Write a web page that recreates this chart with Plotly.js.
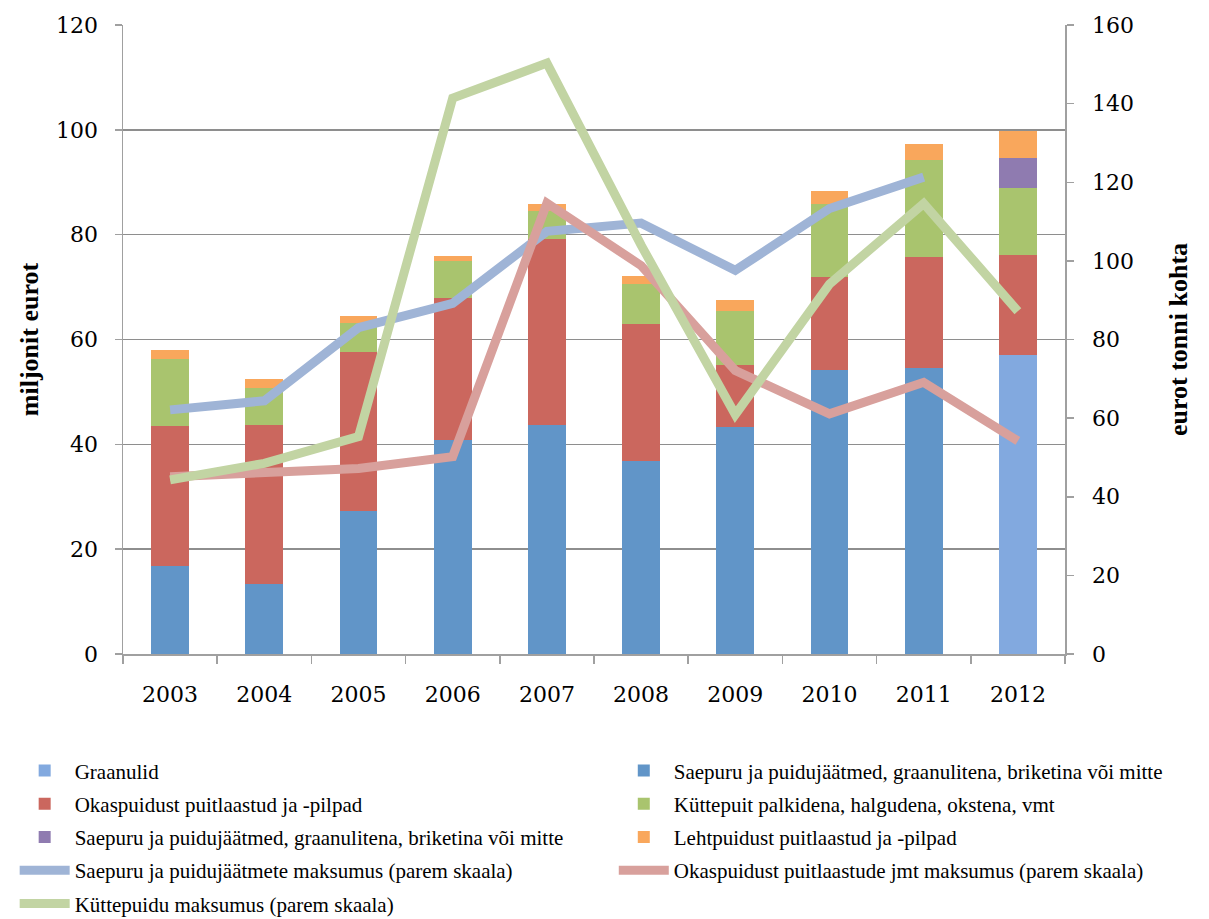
<!DOCTYPE html>
<html>
<head>
<meta charset="utf-8">
<script src="https://cdn.plot.ly/plotly-3.0.1.min.js"></script>
<style>html,body{margin:0;padding:0;background:#fff;}#chart{width:1209px;height:919px;}</style>
</head>
<body>
<div id="chart"></div>
<script>
const years = ['2003','2004','2005','2006','2007','2008','2009','2010','2011','2012'];

// Stacked bars (miljonit eurot)
const graanulid      = [null, null, null, null, null, null, null, null, null, 57.1];
const saepuruBlue    = [16.8, 13.3, 27.3, 40.9, 43.6, 36.9, 43.3, 54.2, 54.5, null];
const okaspuit       = [26.7, 30.3, 30.3, 27.0, 35.5, 26.0, 11.8, 17.8, 21.3, 19.1];
const kuttepuit      = [12.7, 7.2, 5.6, 7.0, 5.4, 7.6, 10.3, 13.8, 18.4, 12.7];
const saepuruPurple  = [null, null, null, null, null, null, null, null, null, 5.8];
const lehtpuit       = [1.8, 1.6, 1.2, 1.0, 1.3, 1.6, 2.2, 2.5, 3.1, 5.0];

// Lines (eurot tonni kohta, right scale)
const saepuruHind    = [62.1, 64.4, 83.0, 89.2, 107.5, 109.6, 97.6, 113.3, 121.3, null];
const okasHind       = [45.1, 46.4, 47.2, 50.2, 114.7, 98.8, 72.1, 61.1, 69.1, 54.2];
const kuttepuiduHind = [44.3, 48.5, 55.3, 141.4, 150.3, 104.0, 60.9, 94.1, 114.6, 87.2];

const names = [
  'Graanulid',
  'Saepuru ja puidujäätmed, graanulitena, briketina või mitte',
  'Okaspuidust puitlaastud ja -pilpad',
  'Küttepuit palkidena, halgudena, okstena, vmt',
  'Saepuru ja puidujäätmed, graanulitena, briketina või mitte',
  'Lehtpuidust puitlaastud ja -pilpad',
  'Saepuru ja puidujäätmete maksumus (parem skaala)',
  'Okaspuidust puitlaastude jmt maksumus (parem skaala)',
  'Küttepuidu maksumus (parem skaala)'
];

function bar(y, name, color, leg, grp) {
  return {type:'bar', x:years, y:y, name:name, legend:leg, legendgroup:grp,
          marker:{color:color, line:{width:0}}};
}
function line(y, name, color, leg, grp) {
  return {type:'scatter', mode:'lines', x:years, y:y, name:name, yaxis:'y2', legend:leg, legendgroup:grp,
          line:{color:color, width:9}, connectgaps:false};
}

const data = [
  bar(graanulid, names[0], '#82a9df', 'legend', 'g0'),
  bar(saepuruBlue, names[1], '#6195c8', 'legend2', 'g1'),
  bar(okaspuit, names[2], '#cb675e', 'legend', 'g2'),
  bar(kuttepuit, names[3], '#a9c46e', 'legend2', 'g3'),
  bar(saepuruPurple, names[4], '#8f7bb0', 'legend', 'g4'),
  bar(lehtpuit, names[5], '#f9a75c', 'legend2', 'g5'),
  line(saepuruHind, names[6], '#9fb4d6', 'legend', 'g6'),
  line(okasHind, names[7], '#d8a09c', 'legend2', 'g7'),
  line(kuttepuiduHind, names[8], '#c2d4a3', 'legend', 'g8')
];

const tickFont = {family:'DejaVu Serif, serif', size:22, color:'#000'};
const legFont = {family:'Liberation Serif, serif', size:21, color:'#000'};
const titleFont = {family:'Liberation Serif, serif', size:26, color:'#000', weight:'bold'};
const layout = {
  width:1209, height:919,
  margin:{l:123, r:144, t:25, b:265, autoexpand:false},
  paper_bgcolor:'#fff', plot_bgcolor:'#fff',
  barmode:'stack', bargap:0.6,
  showlegend:true,
  font:{family:'Liberation Serif, serif', color:'#000'},
  xaxis:{
    type:'category', tickson:'boundaries', ticks:'outside', ticklen:8, tickcolor:'#a0a0a0', tickwidth:1.5,
    showline:true, linecolor:'#a0a0a0', linewidth:1.5, showgrid:false,
    tickfont:tickFont, ticklabelstandoff:20
  },
  yaxis:{
    range:[0,120], dtick:20, ticks:'outside', ticklen:7, tickcolor:'#a0a0a0', tickwidth:1.5,
    showline:true, linecolor:'#a0a0a0', linewidth:1.5,
    showgrid:true, gridcolor:'#8e8e8e', gridwidth:1.5, zeroline:false,
    tickfont:tickFont, ticklabelstandoff:12,
    title:{text:'miljonit eurot', font:titleFont, standoff:10}
  },
  yaxis2:{
    range:[0,160], dtick:20, overlaying:'y', side:'right', ticks:'outside', ticklen:7, tickcolor:'#a0a0a0', tickwidth:1.5,
    showline:true, linecolor:'#a0a0a0', linewidth:1.5, showgrid:false, zeroline:false,
    tickfont:tickFont, ticklabelstandoff:14,
    title:{text:'eurot tonni kohta', font:titleFont, standoff:36}
  },
  legend:{
    orientation:'v', x:-0.115, xanchor:'left', y:-0.153, yanchor:'top',
    itemwidth:50, font:legFont, traceorder:'grouped', tracegroupgap:3, bgcolor:'rgba(0,0,0,0)'
  },
  legend2:{
    orientation:'v', x:0.521, xanchor:'left', y:-0.153, yanchor:'top',
    itemwidth:50, font:legFont, traceorder:'grouped', tracegroupgap:3, bgcolor:'rgba(0,0,0,0)'
  }
};

Plotly.newPlot('chart', data, layout, {displayModeBar:false, staticPlot:true});
</script>
</body>
</html>
